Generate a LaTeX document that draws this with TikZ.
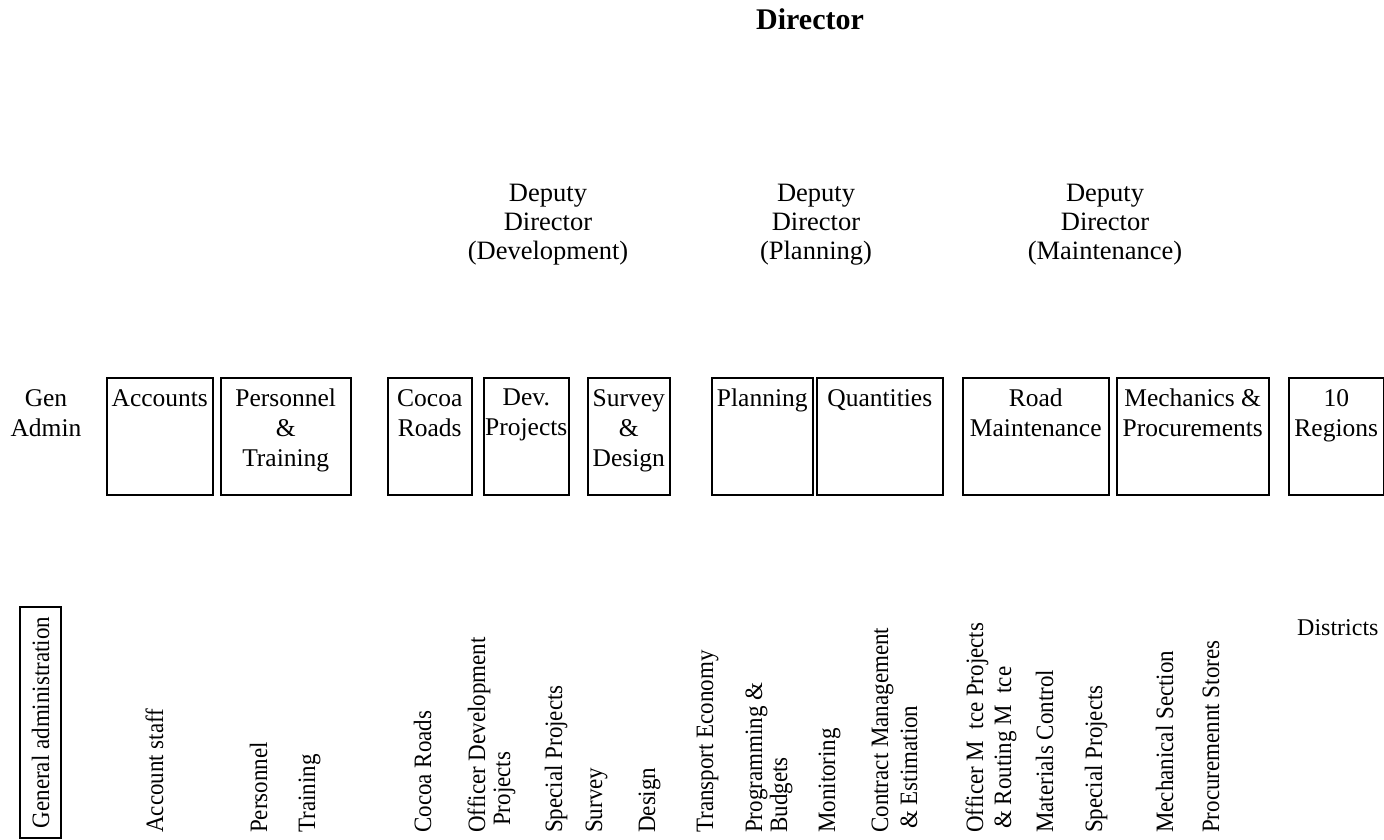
\documentclass[tikz,border=0pt]{standalone}
\usepackage{fontspec}
\setmainfont{Liberation Serif}
\newfontfamily\narrowserif[FakeStretch=0.92]{Liberation Serif}
\begin{document}
\begin{tikzpicture}[x=1pt,y=-1pt,
  unit/.style={draw, line width=1.5pt, minimum height=117pt, inner sep=0pt, anchor=north west},
  unittext/.style={anchor=north, inner sep=0pt, align=center, font=\fontsize{25.5}{30}\selectfont},
  deputy/.style={anchor=north, inner sep=0pt, align=center, font=\fontsize{26.5}{29}\selectfont},
  sectionfont/.style={font=\narrowserif\fontsize{25}{27}\selectfont},
  section/.style={sectionfont, rotate=90, anchor=base west, inner sep=0pt},
]
\useasboundingbox (0,0) rectangle (1384,840);

% Director and deputies
\node[anchor=base, inner sep=0pt, font=\fontsize{30}{34}\selectfont\bfseries] (dir) at (810,30) {Director};
\node[deputy] (ddev) at (548,184) {Deputy\\Director\\(Development)};
\node[deputy] (dpla) at (816,184) {Deputy\\Director\\(Planning)};
\node[deputy] (dmai) at (1105,184) {Deputy\\Director\\(Maintenance)};

% Units
\node[unittext] (gen) at (46,389) {Gen\\Admin};

\node[unit, minimum width=106pt] (acc) at (106,377) {};
\node[unittext] (accT) at ([yshift=-12pt]acc.north) {Accounts};
\node[unit, minimum width=130pt] (pat) at (220,377) {};
\node[unittext] (patT) at ([yshift=-12pt]pat.north) {Personnel\\\&\\Training};

\node[unit, minimum width=84pt] (coc) at (387,377) {};
\node[unittext] (cocT) at ([yshift=-12pt]coc.north) {Cocoa\\Roads};
\node[unit, minimum width=85pt] (dev) at (483,377) {};
\node[unittext] (devT) at ([yshift=-12pt]dev.north) {Dev.\\Projects};
\node[unit, minimum width=82pt] (sud) at (587,377) {};
\node[unittext] (sudT) at ([yshift=-12pt]sud.north) {Survey\\\&\\Design};

\node[unit, minimum width=101pt] (pla) at (711,377) {};
\node[unittext] (plaT) at ([yshift=-12pt]pla.north) {Planning};
\node[unit, minimum width=126pt] (qua) at (816,377) {};
\node[unittext] (quaT) at ([yshift=-12pt]qua.north) {Quantities};

\node[unit, minimum width=146pt] (rom) at (962,377) {};
\node[unittext] (romT) at ([yshift=-12pt]rom.north) {Road\\Maintenance};
\node[unit, minimum width=152pt] (mep) at (1116,377) {};
\node[unittext] (mepT) at ([yshift=-12pt]mep.north) {Mechanics \&\\Procurements};
\node[unit, minimum width=95pt] (reg) at (1288,377) {};
\node[unittext] (regT) at ([yshift=-12pt]reg.north) {10\\Regions};

% Sections
\node[draw, line width=1.5pt, rotate=90, minimum width=231pt, minimum height=41pt, inner sep=0pt,
      sectionfont] (gad) at (40.5,722.5) {General administration};
\node[section] (acs) at (163,833) {Account staff};
\node[section] (per) at (267,833) {Personnel};
\node[section] (trn) at (315,833) {Training};
\node[section] (ccr) at (431,833) {Cocoa Roads};
\node[section] (odp) at (510,833) {\begin{tabular}[b]{@{}l@{}}Officer Development\\[-2pt]\hspace*{7pt}Projects\end{tabular}};
\node[section] (spp) at (562,833) {Special Projects};
\node[section] (sur) at (602,833) {Survey};
\node[section] (des) at (655,833) {Design};
\node[section] (tre) at (713,833) {Transport Economy};
\node[section] (prb) at (787,833) {\begin{tabular}[b]{@{}l@{}}Programming \&\\[-2pt]Budgets\end{tabular}};
\node[section] (mon) at (835,833) {Monitoring};
\node[section] (cme) at (917,833) {\begin{tabular}[b]{@{}l@{}}Contract Management\\[2pt]\hspace*{4pt}\& Estimation\end{tabular}};
\node[section] (omt) at (1011,833) {\begin{tabular}[b]{@{}l@{}}Officer M\hspace{0.45em}tce Projects\\[1pt]\hspace*{4pt}\& Routing M\hspace{0.45em}tce\end{tabular}};
\node[section] (mat) at (1053,833) {Materials Control};
\node[section] (sp2) at (1102,833) {Special Projects};
\node[section] (mes) at (1173,833) {Mechanical Section};
\node[section] (prs) at (1219,833) {Procuremennt Stores};
\node[anchor=base west, inner sep=0pt, font=\fontsize{24}{28}\selectfont] (dis) at (1297,635) {Districts};
\end{tikzpicture}
\end{document}
